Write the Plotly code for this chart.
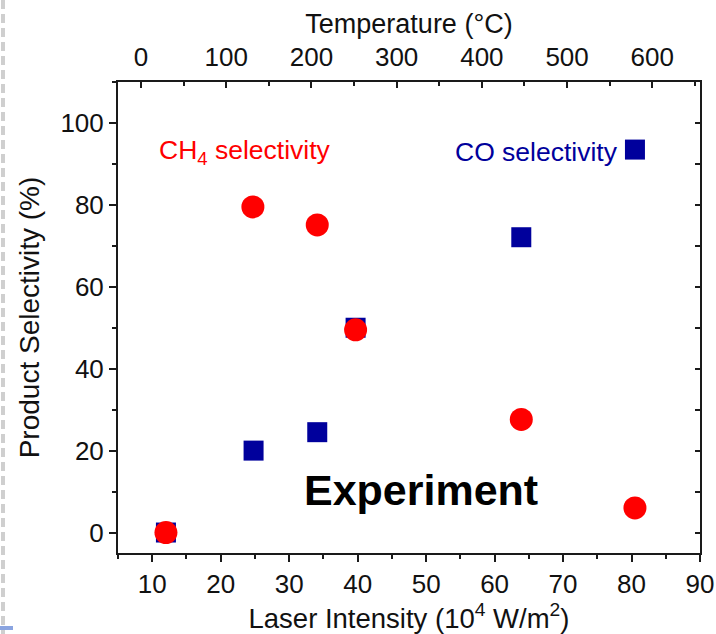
import plotly.graph_objects as go

# Laser intensity (10^4 W/m^2) and product selectivity (%)
ch4_intensity = [12, 24.7, 34.1, 39.7, 63.9, 80.5]
ch4_selectivity = [0, 79.5, 75.1, 49.5, 27.6, 6.0]

co_intensity = [12, 24.8, 34.1, 39.7, 63.9, 80.5]
co_selectivity = [0, 20.0, 24.5, 50.0, 72.1, 93.5]

x_ticks = [10, 20, 30, 40, 50, 60, 70, 80, 90]
y_ticks = [0, 20, 40, 60, 80, 100]
temp_ticks = [0, 100, 200, 300, 400, 500, 600]

RED = "#ff0000"
NAVY = "#00009c"
FONT = "Liberation Sans, Arial, sans-serif"

W, H = 716, 634
L, R, T, B = 118, 16, 82, 81
pw, ph = W - L - R, H - T - B


def px_to_paper(px, py):
    return (px - L) / pw, (H - B - py) / ph


fig = go.Figure()

fig.add_trace(go.Scatter(
    x=co_intensity, y=co_selectivity, mode="markers",
    marker=dict(symbol="square", size=20, color=NAVY, line=dict(width=0)),
    showlegend=False, cliponaxis=False,
))
fig.add_trace(go.Scatter(
    x=ch4_intensity, y=ch4_selectivity, mode="markers",
    marker=dict(symbol="circle", size=23, color=RED, line=dict(width=0)),
    showlegend=False, cliponaxis=False,
))
# empty trace so the temperature axis and right frame axis are rendered
fig.add_trace(go.Scatter(x=[], y=[], xaxis="x2", yaxis="y2", showlegend=False))

axis_common = dict(
    showline=True, linecolor="#1a1a1a", linewidth=2, automargin=False,
    tickcolor="#1a1a1a", tickwidth=1.5, showgrid=False, zeroline=False,
    tickfont=dict(family=FONT, size=26, color="#111"),
)

fig.update_layout(
    template="none",
    width=W, height=H,
    margin=dict(l=L, r=R, t=T, b=B),
    plot_bgcolor="white", paper_bgcolor="white",
    font=dict(family=FONT, size=26, color="#111"),
    xaxis=dict(
        range=[5, 90], tickvals=x_ticks, ticks="outside", ticklen=7,
        minor=dict(dtick=5, tick0=5, ticks="outside", ticklen=4, tickcolor="#1a1a1a"),
        title=dict(text="Laser Intensity (10<sup>4</sup> W/m<sup>2</sup>)",
                   font=dict(family=FONT, size=27.5), standoff=4),
        **axis_common,
    ),
    yaxis=dict(
        range=[-5, 110], tickvals=y_ticks, ticks="outside", ticklen=7,
        minor=dict(dtick=10, tick0=0, ticks="outside", ticklen=4, tickcolor="#1a1a1a"),
        title=dict(text="Product Selectivity (%)",
                   font=dict(family=FONT, size=28), standoff=13),
        **axis_common,
    ),
    xaxis2=dict(
        overlaying="x", side="top", anchor="y2",
        range=[-27, 656], tickvals=temp_ticks, ticks="inside", ticklen=6,
        ticklabelstandoff=4,
        minor=dict(dtick=50, tick0=0, ticks="inside", ticklen=4, tickcolor="#1a1a1a"),
        title=dict(text="Temperature (°C)", font=dict(family=FONT, size=27), standoff=0),
        **axis_common,
    ),
    yaxis2=dict(
        overlaying="y", side="right", anchor="x2",
        range=[-5, 110], dtick=10, tick0=0, ticks="inside", ticklen=5,
        showticklabels=False,
        **axis_common,
    ),
)

fig.add_annotation(
    x=10.7, y=93, xref="x", yref="y", xanchor="left", yanchor="middle",
    text="CH<sub>4</sub> selectivity", showarrow=False,
    font=dict(family=FONT, size=26.5, color=RED),
)
fig.add_annotation(
    x=78.3, y=93, xref="x", yref="y", xanchor="right", yanchor="middle",
    text="CO selectivity", showarrow=False,
    font=dict(family=FONT, size=26.5, color=NAVY),
)
fig.add_annotation(
    x=49.2, y=10.5, xref="x", yref="y", xanchor="center", yanchor="middle",
    text="<b>Experiment</b>", showarrow=False,
    font=dict(family=FONT, size=43, color="black"),
)

# slide edge decoration on the left and a short accent bar at the bottom
x0, y0 = px_to_paper(3, 0)
x1, y1 = px_to_paper(3, 634)
fig.add_shape(type="line", xref="paper", yref="paper", x0=x0, y0=y0, x1=x0, y1=y1,
              line=dict(color="#cfcfcf", width=4, dash="9px,5px"))
bx0, by0 = px_to_paper(0, 626)
bx1, by1 = px_to_paper(13, 630)
fig.add_shape(type="rect", xref="paper", yref="paper", x0=bx0, y0=by0, x1=bx1, y1=by1,
              line=dict(width=0), fillcolor="#8aa4e0")

fig.write_html("out.html")
